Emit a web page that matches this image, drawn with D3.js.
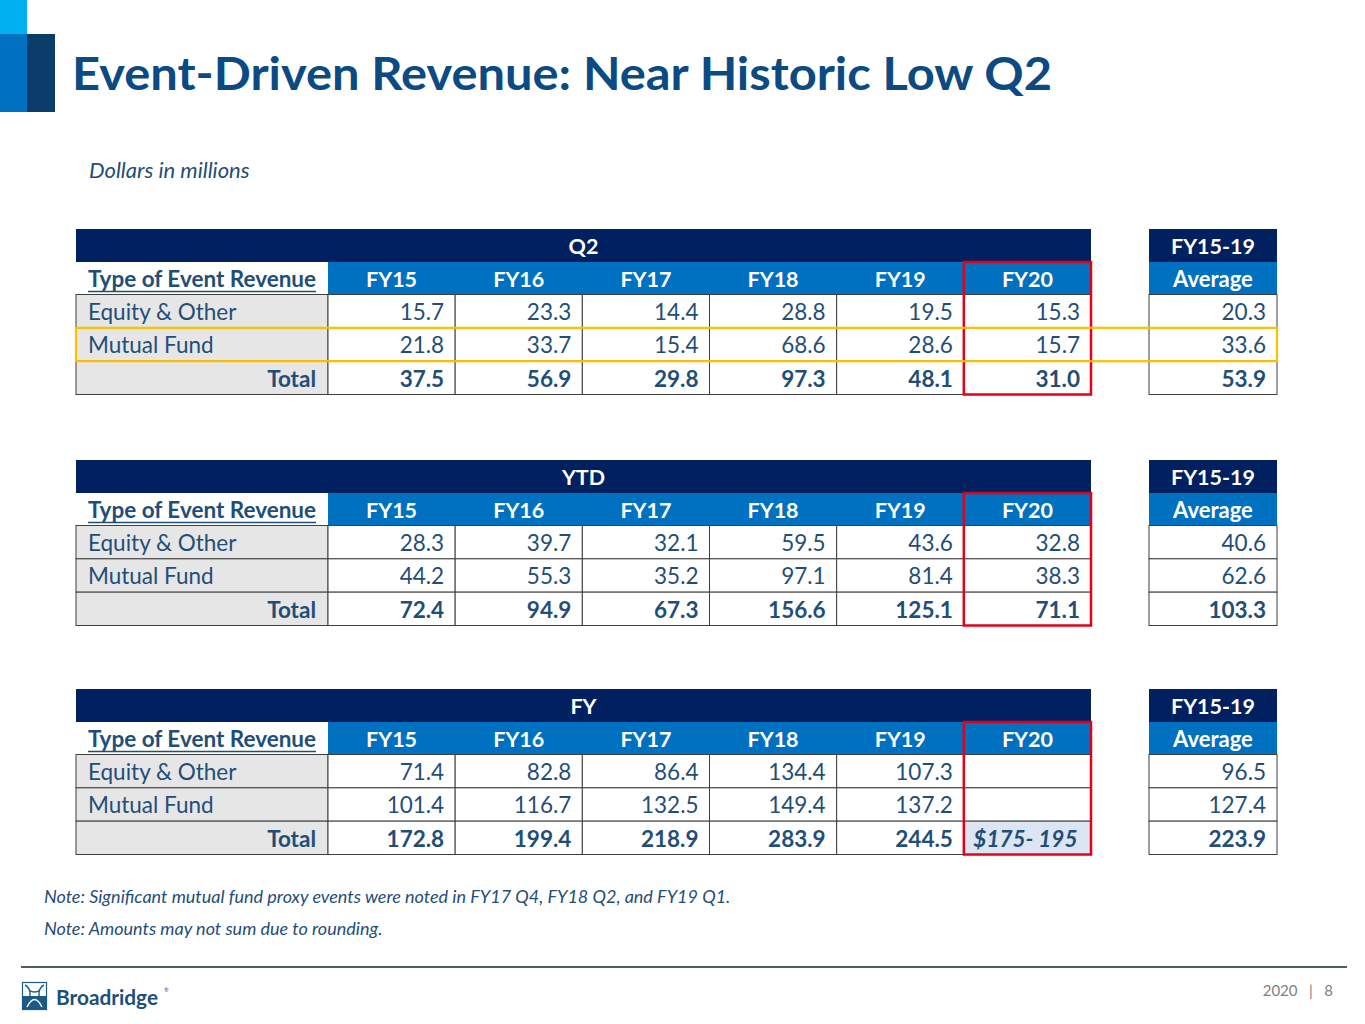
<!DOCTYPE html>
<html><head><meta charset="utf-8">
<script src="https://cdn.jsdelivr.net/npm/d3@7"></script>
<style>body{margin:0;background:#fff;} svg{display:block;font-family:Lato,"Open Sans",sans-serif;}</style>
</head><body>
<svg id="c" width="1365" height="1024"></svg>
<script>
// ---- data ----
const years = ["FY15","FY16","FY17","FY18","FY19","FY20"];
const rowLabels = ["Equity & Other","Mutual Fund","Total"];
const tableTitles = ["Q2","YTD","FY"];
const avgTitle = ["FY15-19","Average"];
const labelHeader = "Type of Event Revenue";

const q2Equity = [15.7,23.3,14.4,28.8,19.5,15.3];
const q2Mutual = [21.8,33.7,15.4,68.6,28.6,15.7];
const q2Total  = [37.5,56.9,29.8,97.3,48.1,31.0];
const q2Avg    = [20.3,33.6,53.9];

const ytdEquity = [28.3,39.7,32.1,59.5,43.6,32.8];
const ytdMutual = [44.2,55.3,35.2,97.1,81.4,38.3];
const ytdTotal  = [72.4,94.9,67.3,156.6,125.1,71.1];
const ytdAvg    = [40.6,62.6,103.3];

const fyEquity = [71.4,82.8,86.4,134.4,107.3,null];
const fyMutual = [101.4,116.7,132.5,149.4,137.2,null];
const fyTotal  = [172.8,199.4,218.9,283.9,244.5,null];
const fyAvg    = [96.5,127.4,223.9];
const fyGuidance = "$175- 195";

const notes = ["Note: Significant mutual fund proxy events were noted in FY17 Q4, FY18 Q2, and FY19 Q1.",
               "Note: Amounts may not sum due to rounding."];

// ---- drawing ----
const svg = d3.select("#c");
const NAVY="#002060", BLUE="#0070c0", TXT="#1f4e79", GRAY="#e7e6e6", LINE="#3f3f3f";

// corner decoration
svg.append("rect").attr("x",0).attr("y",0).attr("width",27).attr("height",34).attr("fill","#00b0f0");
svg.append("rect").attr("x",0).attr("y",34).attr("width",27).attr("height",78).attr("fill","#0070c0");
svg.append("rect").attr("x",27).attr("y",34).attr("width",28).attr("height",78).attr("fill","#0b3d6b");

svg.append("text").attr("x",72).attr("y",90).attr("fill","#0b4a82")
  .attr("font-size",46).attr("font-weight",700)
  .attr("textLength",980).attr("lengthAdjust","spacingAndGlyphs")
  .text("Event-Driven Revenue: Near Historic Low Q2");

svg.append("text").attr("x",89).attr("y",178).attr("fill",TXT)
  .attr("font-size",22).attr("font-style","italic").text("Dollars in millions");

const x = d3.scaleBand().domain(years).range([328,1091]);
const tables = [
  {title:tableTitles[0], top:229, rows:[q2Equity,q2Mutual,q2Total], avg:q2Avg, yellow:true},
  {title:tableTitles[1], top:460, rows:[ytdEquity,ytdMutual,ytdTotal], avg:ytdAvg},
  {title:tableTitles[2], top:689, rows:[fyEquity,fyMutual,fyTotal], avg:fyAvg, guidance:fyGuidance}
];
const fmt = d3.format(".1f");
const avgX0 = 1149, avgX1 = 1277;
const FS = 22.5;

tables.forEach(t => {
  const g = svg.append("g");
  const bandH = 33, headH = 32.5;
  const yRow = d3.scaleBand().domain(rowLabels).range([t.top+bandH+headH, t.top+bandH+headH+100]);
  // bands
  g.append("rect").attr("x",76).attr("y",t.top).attr("width",1091-76).attr("height",bandH).attr("fill",NAVY);
  g.append("text").attr("x",(76+1091)/2).attr("y",t.top+bandH/2+1).attr("dy","0.35em")
    .attr("text-anchor","middle").attr("fill","#fff").attr("font-weight",700).attr("font-size",21.5).text(t.title);
  g.append("rect").attr("x",avgX0).attr("y",t.top).attr("width",avgX1-avgX0).attr("height",bandH).attr("fill",NAVY);
  g.append("text").attr("x",(avgX0+avgX1)/2).attr("y",t.top+bandH/2+1).attr("dy","0.35em")
    .attr("text-anchor","middle").attr("fill","#fff").attr("font-weight",700).attr("font-size",21.5).text(avgTitle[0]);
  // header row
  const hy = t.top+bandH;
  g.append("rect").attr("x",328).attr("y",hy).attr("width",1091-328).attr("height",headH).attr("fill",BLUE);
  g.selectAll(".yh").data(years).join("text")
    .attr("x",d=>x(d)+x.bandwidth()/2).attr("y",hy+headH/2+1).attr("dy","0.35em")
    .attr("text-anchor","middle").attr("fill","#fff").attr("font-weight",700).attr("font-size",21.5).text(d=>d);
  g.append("rect").attr("x",avgX0).attr("y",hy).attr("width",avgX1-avgX0).attr("height",headH).attr("fill",BLUE);
  g.append("text").attr("x",(avgX0+avgX1)/2).attr("y",hy+headH/2+1).attr("dy","0.35em")
    .attr("text-anchor","middle").attr("fill","#fff").attr("font-weight",700).attr("font-size",22).text(avgTitle[1]);
  g.append("text").attr("x",88).attr("y",hy+headH/2+1).attr("dy","0.35em").attr("fill",TXT)
    .attr("font-weight",700).attr("font-size",22).attr("textLength",228).attr("lengthAdjust","spacingAndGlyphs").text(labelHeader);
  g.append("line").attr("x1",88).attr("x2",316).attr("y1",hy+headH-3).attr("y2",hy+headH-3).attr("stroke",TXT).attr("stroke-width",1.6);

  // label cells
  g.selectAll(".lc").data(rowLabels).join("rect")
    .attr("x",76).attr("y",d=>yRow(d)).attr("width",252).attr("height",yRow.bandwidth())
    .attr("fill",GRAY).attr("stroke",LINE).attr("stroke-width",1);
  g.selectAll(".lt").data(rowLabels).join("text")
    .attr("x",(d,i)=>i===2?316:88).attr("text-anchor",(d,i)=>i===2?"end":"start")
    .attr("y",d=>yRow(d)+yRow.bandwidth()/2+1).attr("dy","0.35em")
    .attr("fill",TXT).attr("font-size",FS).attr("font-weight",(d,i)=>i===2?700:400).text(d=>d);

  // data cells
  t.rows.forEach((vals,ri) => {
    const rl = rowLabels[ri];
    const cells = vals.map((v,ci)=>({v, yr:years[ci]}));
    g.selectAll(".dc"+ri).data(cells).join("rect")
      .attr("x",d=>x(d.yr)).attr("y",yRow(rl)).attr("width",x.bandwidth()).attr("height",yRow.bandwidth())
      .attr("fill",d=> (d.v===null && ri===2 && t.guidance)?"#dce6f2":"#fff").attr("stroke",LINE).attr("stroke-width",1);
    g.selectAll(".dt"+ri).data(cells.filter(d=>d.v!==null)).join("text")
      .attr("x",d=>x(d.yr)+x.bandwidth()-11).attr("text-anchor","end")
      .attr("y",yRow(rl)+yRow.bandwidth()/2+1).attr("dy","0.35em")
      .attr("fill",TXT).attr("font-size",FS).attr("font-weight",ri===2?700:400).text(d=>fmt(d.v));
    // average cell
    g.append("rect").attr("x",avgX0).attr("y",yRow(rl)).attr("width",avgX1-avgX0).attr("height",yRow.bandwidth())
      .attr("fill","#fff").attr("stroke",LINE).attr("stroke-width",1);
    g.append("text").attr("x",avgX1-11).attr("text-anchor","end")
      .attr("y",yRow(rl)+yRow.bandwidth()/2+1).attr("dy","0.35em")
      .attr("fill",TXT).attr("font-size",FS).attr("font-weight",ri===2?700:400).text(fmt(t.avg[ri]));
  });
  if (t.guidance) {
    g.append("text").attr("x",x("FY20")+x.bandwidth()/2-2).attr("text-anchor","middle")
      .attr("y",yRow("Total")+yRow.bandwidth()/2+1).attr("dy","0.35em")
      .attr("fill",TXT).attr("font-size",FS).attr("font-weight",700).attr("font-style","italic").text(t.guidance);
  }
  // red box
  g.append("rect").attr("x",x("FY20")).attr("y",hy).attr("width",x.bandwidth()).attr("height",yRow.range()[1]-hy)
    .attr("fill","none").attr("stroke","#e3001b").attr("stroke-width",2.5);
  if (t.yellow) {
    g.append("rect").attr("x",76).attr("y",yRow("Mutual Fund")).attr("width",avgX1-76).attr("height",yRow.bandwidth())
      .attr("fill","none").attr("stroke","#ffc000").attr("stroke-width",2.2);
  }
});

svg.selectAll(".note").data(notes).join("text")
  .attr("x",44).attr("y",(d,i)=>903+i*32).attr("fill",TXT).attr("font-size",18).attr("font-style","italic").text(d=>d);

// footer
svg.append("line").attr("x1",21).attr("x2",1347).attr("y1",967).attr("y2",967).attr("stroke","#4f5f5f").attr("stroke-width",1.8);
const lg = svg.append("g");
lg.append("rect").attr("x",22.5).attr("y",982.5).attr("width",24).attr("height",27).attr("fill","#fff").attr("stroke","#1a5a8a").attr("stroke-width",1.2);
lg.append("rect").attr("x",22.5).attr("y",996).attr("width",24).attr("height",13.5).attr("fill","#1a5a8a");
lg.append("path").attr("d","M25,985 C31,988 32,996 26,1007 M44,985 C38,988 37,996 43,1007 M29,990 C33,993 36,993 40,990 M29,1003 C33,999 36,999 40,1003")
  .attr("fill","none").attr("stroke","#1a5a8a").attr("stroke-width",1.4);
lg.append("path").attr("d","M27,1007 C32,997 37,997 42,1007").attr("fill","none").attr("stroke","#fff").attr("stroke-width",1.4);
lg.append("text").attr("x",56).attr("y",1005).attr("fill","#1b4f7e").attr("font-size",20.5).attr("font-weight",700)
  .attr("textLength",102).attr("lengthAdjust","spacingAndGlyphs").text("Broadridge");
lg.append("text").attr("x",164).attr("y",992).attr("fill","#1b4f7e").attr("font-size",5.5).text("®");
svg.append("text").attr("x",1333).attr("y",996).attr("text-anchor","end").attr("fill","#7f7f7f").attr("font-size",15)
  .attr("xml:space","preserve").text("2020   |   8");
</script>
</body></html>
